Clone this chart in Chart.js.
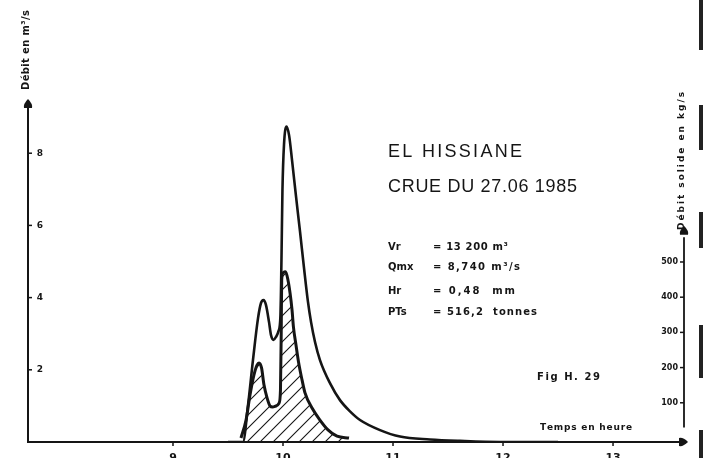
<!DOCTYPE html>
<html>
<head>
<meta charset="utf-8">
<script src="https://cdn.jsdelivr.net/npm/chart.js@4/dist/chart.umd.min.js"></script>
<style>
  html, body { margin: 0; padding: 0; background: #fff; }
  #wrap { width: 703px; height: 458px; }
</style>
</head>
<body>
<div id="wrap"><canvas id="c" width="703" height="458"></canvas></div>
<script>
// Hydrogramme de la crue : temps (heures) et débit liquide (m3/s)
const timeQ = [9.50, 9.636, 9.682, 9.727, 9.773, 9.800, 9.823, 9.845, 9.873, 9.891, 9.914, 9.936, 9.959, 9.977,
  9.986, 9.995, 10.009, 10.032, 10.055, 10.082, 10.118, 10.155, 10.191, 10.227,
  10.255, 10.291, 10.336, 10.427, 10.518, 10.609, 10.700, 10.882, 11.064, 11.336, 11.609, 11.973, 12.50];
const debitQ = [0, 0, 1.02, 2.27, 3.43, 3.85, 3.93, 3.80, 3.32, 2.96, 2.83, 2.91, 3.07, 3.52,
  5.04, 6.98, 8.23, 8.74, 8.50, 7.81, 6.81, 5.82, 4.82, 3.88,
  3.32, 2.77, 2.27, 1.63, 1.16, 0.85, 0.61, 0.33, 0.15, 0.07, 0.03, 0, 0];

// Débit solide (kg/s)
const timeS = [9.618, 9.664, 9.700, 9.736, 9.764, 9.782, 9.805, 9.827, 9.855, 9.882, 9.905, 9.936, 9.964,
  9.977, 9.984, 9.988, 10.000, 10.023, 10.045, 10.064, 10.082, 10.095, 10.118, 10.141, 10.173, 10.200,
  10.264, 10.336, 10.409, 10.491, 10.600];
const debitS = [0, 51, 122, 179, 207, 213, 199, 151, 114, 91, 88, 91, 99,
  136, 307, 449, 469, 472, 449, 412, 364, 315, 264, 216, 165, 128,
  85, 51, 23, 5, 0];

const hourTicks = [9, 10, 11, 12, 13];
const qTicks = [2, 4, 6, 8];
const sTicks = [100, 200, 300, 400, 500];

const stationName = 'EL HISSIANE';
const floodDate = 'CRUE DU 27.06 1985';
const paramNames = ['Vr', 'Qmx', 'Hr', 'PTs'];
const paramValues = ['= 13 200 m³', '= 8,740 m³/s', '= 0,48  mm', '= 516,2  tonnes'];
const figLabel = 'Fig H. 29';
const timeTitle = 'Temps en heure';
const qTitle = 'Débit en m³/s';
const sTitle = 'Débit solide en kg/s';

const INK = '#151515';

// diagonal hatching used for the sediment-discharge area
function makeHatch(ctx) {
  const s = 13;
  const t = document.createElement('canvas');
  t.width = s; t.height = s;
  const g = t.getContext('2d');
  g.strokeStyle = INK;
  g.lineWidth = 1.1;
  g.beginPath();
  g.moveTo(-1, s + 1); g.lineTo(s + 1, -1);
  g.moveTo(-2, 2); g.lineTo(2, -2);
  g.moveTo(s - 2, s + 2); g.lineTo(s + 2, s - 2);
  g.stroke();
  return ctx.createPattern(t, 'repeat');
}

// draw a string starting at x, stretched with letter gaps to the given width
function drawSpread(ctx, text, x, y, width) {
  const chars = Array.from(text);
  let natural = 0;
  chars.forEach(ch => { natural += ctx.measureText(ch).width; });
  const gap = chars.length > 1 ? (width - natural) / (chars.length - 1) : 0;
  let cx = x;
  ctx.textAlign = 'left';
  chars.forEach(ch => {
    ctx.fillText(ch, cx, y);
    cx += ctx.measureText(ch).width + gap;
  });
}

function arrowHead(ctx, x, y, dir) {
  // dir: 'up' or 'right'; (x, y) is the tip
  ctx.beginPath();
  if (dir === 'up') {
    ctx.moveTo(x, y);
    ctx.quadraticCurveTo(x + 5, y + 5, x + 4, y + 9);
    ctx.lineTo(x - 4, y + 9);
    ctx.quadraticCurveTo(x - 5, y + 5, x, y);
  } else {
    ctx.moveTo(x, y);
    ctx.quadraticCurveTo(x - 5, y - 5, x - 9, y - 4);
    ctx.lineTo(x - 9, y + 4);
    ctx.quadraticCurveTo(x - 5, y + 5, x, y);
  }
  ctx.fill();
}

const decor = {
  id: 'decor',
  afterDraw(chart) {
    const ctx = chart.ctx;
    const xs = chart.scales.x, ys = chart.scales.y, ys2 = chart.scales.y2;
    const area = chart.chartArea;
    const x0 = area.left;
    const yBase = ys.getPixelForValue(0);
    ctx.save();
    ctx.strokeStyle = INK;
    ctx.fillStyle = INK;
    ctx.lineCap = 'butt';

    // left axis
    ctx.lineWidth = 2;
    ctx.beginPath();
    ctx.moveTo(x0, yBase + 1);
    ctx.lineTo(x0, area.top - 2);
    ctx.stroke();
    arrowHead(ctx, x0, area.top - 8, 'up');

    // time axis
    ctx.beginPath();
    ctx.moveTo(x0, yBase);
    ctx.lineTo(area.right - 2, yBase);
    ctx.stroke();
    arrowHead(ctx, area.right + 5, yBase, 'right');

    // right axis (sediment discharge), shorter than the plot height
    const xr = area.right + 1;
    ctx.lineWidth = 1.8;
    ctx.beginPath();
    ctx.moveTo(xr, ys2.getPixelForValue(30));
    ctx.lineTo(xr, ys2.getPixelForValue(570));
    ctx.stroke();
    arrowHead(ctx, xr, ys2.getPixelForValue(580) - 8, 'up');

    // left ticks and labels
    ctx.font = 'bold 9px "DejaVu Sans"';
    ctx.textBaseline = 'middle';
    ctx.lineWidth = 1.5;
    qTicks.forEach(v => {
      const py = ys.getPixelForValue(v);
      ctx.beginPath(); ctx.moveTo(x0, py); ctx.lineTo(x0 + 4, py); ctx.stroke();
      ctx.textAlign = 'center';
      ctx.fillText(String(v), x0 + 12, py);
    });

    // right ticks and labels
    ctx.font = 'bold 8px "DejaVu Sans"';
    sTicks.forEach(v => {
      const py = ys2.getPixelForValue(v);
      ctx.beginPath(); ctx.moveTo(xr, py); ctx.lineTo(xr - 4, py); ctx.stroke();
      ctx.textAlign = 'right';
      ctx.fillText(String(v), xr - 6, py);
    });

    // time ticks and labels (cut by the lower page edge)
    ctx.font = 'bold 11px "DejaVu Sans"';
    ctx.textBaseline = 'top';
    hourTicks.forEach(h => {
      const px = xs.getPixelForValue(h);
      ctx.beginPath(); ctx.moveTo(px, yBase); ctx.lineTo(px, yBase + 4); ctx.stroke();
      ctx.textAlign = 'center';
      ctx.fillText(String(h), px, yBase + 11);
    });

    // axis titles
    ctx.textBaseline = 'middle';
    ctx.font = 'bold 10px "DejaVu Sans"';
    ctx.save();
    ctx.translate(26, 90);
    ctx.rotate(-Math.PI / 2);
    drawSpread(ctx, qTitle, 0, 0, 80);
    ctx.restore();

    ctx.font = 'bold 9px "DejaVu Sans"';
    ctx.save();
    ctx.translate(682, 230);
    ctx.rotate(-Math.PI / 2);
    drawSpread(ctx, sTitle, 0, 0, 138);
    ctx.restore();

    // station and date
    ctx.font = '18px "Liberation Sans"';
    drawSpread(ctx, stationName, 388, 152, 134);
    drawSpread(ctx, floodDate, 388, 187, 189);

    // flood characteristics
    const rows = [247, 267, 291, 312];
    const widths = [75, 87, 82, 104];
    ctx.font = 'bold 10px "DejaVu Sans"';
    paramNames.forEach((n, i) => {
      ctx.textAlign = 'left';
      ctx.fillText(n, 388, rows[i]);
      drawSpread(ctx, paramValues[i], 433, rows[i], widths[i]);
    });

    ctx.font = 'bold 10px "DejaVu Sans"';
    drawSpread(ctx, figLabel, 537, 377, 63);
    ctx.font = 'bold 9px "DejaVu Sans"';
    drawSpread(ctx, timeTitle, 540, 428, 92);

    // dark page edge on the right
    ctx.fillStyle = '#222';
    [[0, 50], [105, 150], [212, 248], [325, 378], [430, 458]].forEach(([a, b]) => {
      ctx.fillRect(699, a, 4, b - a);
    });
    ctx.restore();
  }
};

const canvas = document.getElementById('c');
const ctx2d = canvas.getContext('2d');
const hatch = makeHatch(ctx2d);

new Chart(canvas, {
  type: 'line',
  data: {
    datasets: [
      {
        label: sTitle,
        data: timeS.map((t, i) => ({ x: t, y: debitS[i] })),
        yAxisID: 'y2',
        borderColor: INK,
        borderWidth: 3,
        backgroundColor: hatch,
        fill: 'start',
        pointRadius: 0,
        cubicInterpolationMode: 'monotone'
      },
      {
        label: qTitle,
        data: timeQ.map((t, i) => ({ x: t, y: debitQ[i] })),
        yAxisID: 'y',
        borderColor: INK,
        borderWidth: 2.6,
        fill: false,
        pointRadius: 0,
        cubicInterpolationMode: 'monotone'
      }
    ]
  },
  options: {
    responsive: false,
    animation: false,
    devicePixelRatio: 1,
    layout: { padding: { left: 28, right: 20, top: 107, bottom: 16 } },
    plugins: { legend: { display: false }, tooltip: { enabled: false } },
    scales: {
      x: { type: 'linear', min: 7.682, max: 13.636, display: false },
      y: { min: 0, max: 9.28, display: false },
      y2: { position: 'right', min: -11.4, max: 940.3, display: false }
    }
  },
  plugins: [decor]
});
</script>
</body>
</html>
